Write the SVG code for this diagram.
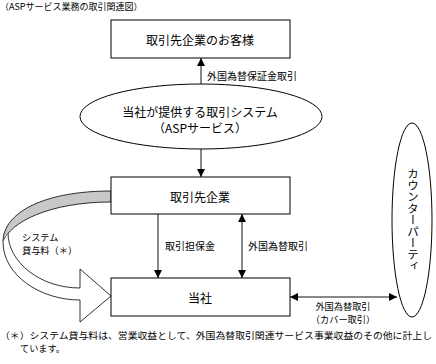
<svg xmlns="http://www.w3.org/2000/svg" width="436" height="364" viewBox="0 0 436 364">
<style>
text { font-family: "Noto Sans CJK JP", "Noto Sans", sans-serif; fill: #000; }
.box { fill: #fff; stroke: #000; stroke-width: 1; }
.lbl { font-size: 12px; text-anchor: middle; dominant-baseline: central; }
.sm { font-size: 10px; dominant-baseline: central; }
.xs { font-size: 9.2px; dominant-baseline: central; }
.con { stroke: #111; stroke-width: 1; fill: none; }
</style>
<defs>
<marker id="ah" viewBox="0 0 10 10" refX="10" refY="5" markerWidth="8" markerHeight="8" markerUnits="userSpaceOnUse" orient="auto-start-reverse">
<path d="M0,0 L10,5 L0,10 Z" fill="#000"/>
</marker>
</defs>
<rect width="436" height="364" fill="#fff"/>
<text x="0" y="6" style="font-size:9px" dominant-baseline="central">（ASPサービス業務の取引関連図）</text>

<g id="connectors">
<line class="con" x1="201" y1="84" x2="201" y2="58" marker-end="url(#ah)"/>
<line class="con" x1="201" y1="149" x2="201" y2="177" marker-end="url(#ah)"/>
<line class="con" x1="158" y1="214" x2="158" y2="278" marker-end="url(#ah)"/>
<line class="con" x1="242" y1="214" x2="242" y2="278" marker-start="url(#ah)" marker-end="url(#ah)"/>
<line class="con" x1="290" y1="297" x2="397" y2="297" marker-start="url(#ah)" marker-end="url(#ah)"/>
<text class="sm" x="207" y="75">外国為替保証金取引</text>
<text class="sm" x="165" y="245">取引担保金</text>
<text class="sm" x="248" y="245">外国為替取引</text>
<text class="xs" x="343" y="306" text-anchor="middle">外国為替取引</text>
<text class="xs" x="343" y="319" text-anchor="middle">（カバー取引）</text>
</g>

<g id="fee-arrow">
<path d="M111,191 C45,191 3,212 3,242 C10,222 50,202 111,202 Z" fill="#c8c8c8" stroke="#000" stroke-width="0.8"/>
<path d="M8,233 C8,262 40,288 80,288 L80,269 L111,296 L80,322 L80,300 C40,300 3,275 3,242" fill="#fff" stroke="#000" stroke-width="0.8"/>
<text class="xs" x="22" y="237">システム</text>
<text class="xs" x="22" y="250">貸与料（＊）</text>
</g>

<g id="customer">
<rect class="box" x="111" y="20" width="179" height="38"/>
<text class="lbl" x="200" y="39">取引先企業のお客様</text>
</g>
<g id="system">
<ellipse cx="201" cy="116.5" rx="121" ry="32.5" fill="#fff" stroke="#000" stroke-width="1"/>
<text class="lbl" x="200" y="111">当社が提供する取引システム</text>
<text class="lbl" x="200" y="127">（ASPサービス）</text>
</g>
<g id="partner">
<rect class="box" x="111" y="177" width="179" height="37"/>
<text class="lbl" x="200" y="196">取引先企業</text>
</g>
<g id="company">
<rect class="box" x="111" y="278" width="179" height="38"/>
<text class="lbl" x="200" y="297">当社</text>
</g>
<g id="counterparty">
<ellipse cx="412" cy="220" rx="20" ry="97" fill="#fff" stroke="#000" stroke-width="1"/>
<text x="413" y="220" style="font-size:11.5px; writing-mode: vertical-rl; text-anchor: middle;">カウンターパーティ</text>
</g>

<text x="0" y="335" class="xs" textLength="432" lengthAdjust="spacingAndGlyphs">（＊）システム貸与料は、営業収益として、外国為替取引関連サービス事業収益のその他に計上し</text>
<text x="20" y="348" class="xs">ています。</text>
</svg>
